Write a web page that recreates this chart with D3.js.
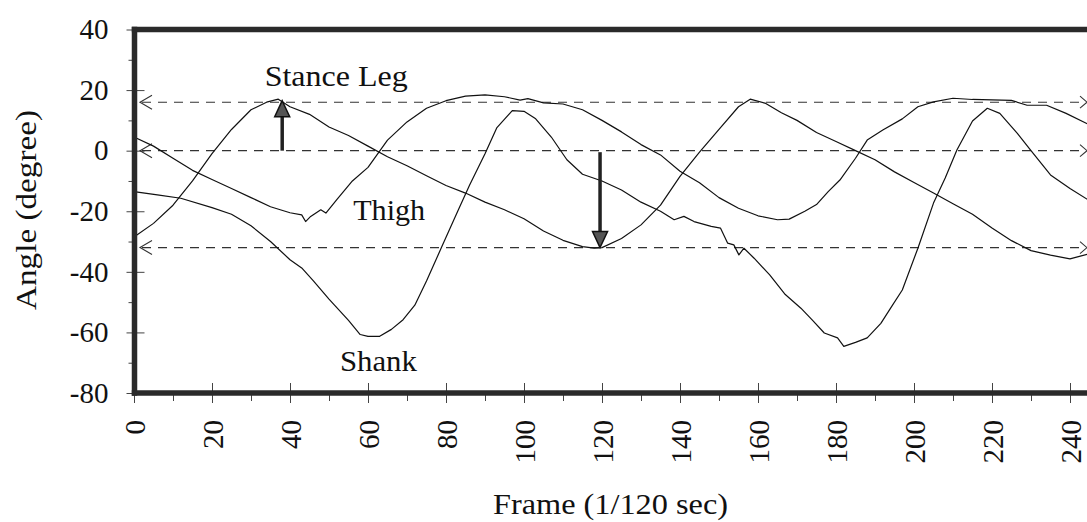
<!DOCTYPE html>
<html>
<head>
<meta charset="utf-8">
<script src="https://cdn.jsdelivr.net/npm/d3@7/dist/d3.min.js"></script>
<style>
  html, body { margin: 0; padding: 0; background: #fff; }
  svg { display: block; }
  svg text { fill: #111; }
</style>
</head>
<body>
<svg id="chart" width="1087" height="522"></svg>
<script>
// ---- data ----
const stanceFrames = [0,5,10,15,20,25,30,34,37,40,45,50,55,60,65,70,75,80,85,90,95,100,105,110,115,118,120,125,130,135,140,145,150,155,158,162,166,170,175,180,185,190,195,200,205,210,215,220,225,230,235,240,245];
const stanceAngles = [-28.5,-24,-18,-10,-1,7,13.5,16,17,14.5,12,7.8,5,1.5,-2,-5,-8.3,-11.5,-14,-17,-19.5,-22.5,-26.5,-29.6,-31.7,-32.2,-32,-29,-24.5,-18,-8.5,-0.5,7,14.5,17,15.6,12.5,10,6,3,0,-3,-7,-10.5,-14,-17.5,-21,-25.5,-29.7,-33,-34.5,-35.7,-34];

const thighFrames = [0,5,10,15,20,25,30,35,40,43,44,45.3,47.9,49.2,52,56,60,65,70,75,80,85,90,95,99,101,105,110,115,120,125,130,135,140,145,150,155,160,165,168,172,175,178,181,185,188,192,197,201,205,210,215,220,225,229,234,239,245];
const thighAngles = [4.5,1.5,-2.5,-6.5,-9.5,-12.5,-15.5,-18.5,-20.5,-21.2,-23.4,-21.7,-19.5,-20.6,-16.2,-10,-5.5,3.5,9.5,14,16.5,18,18.4,17.8,16.7,17.2,15.8,15.4,13.5,10,6.2,2,-1.4,-6.8,-10.6,-15.5,-19,-21.5,-22.8,-22.6,-20,-17.8,-13.5,-9.7,-2.5,3.5,6.8,10.5,14.5,16.1,17.3,16.9,16.8,16.6,15,15,12.3,8.5];

const shankFrames = [0,6,12,20,25,30,35,40,43,46,50,55,58,60,63,66,69,72,75,79,83,86,90,93,97,100,103,107,111,115,120,125,130,135,138.5,141,143.6,148,150.4,152.2,153.8,155.1,156.4,159,163,167,171,174,177,180.4,182,185,188,191.5,194,197,201,205,208,211,215,218.8,222,226.5,230,235,240,245];
const shankAngles = [-13.5,-14.6,-15.7,-18.8,-21,-24.8,-30,-36,-38.7,-43,-49,-56,-60.7,-61.3,-61.3,-59,-55.8,-51,-43,-31.5,-20,-11.5,-1,7.5,13.2,13,10.5,4.5,-3,-7.8,-10,-13,-17,-20,-22.8,-21.7,-23.4,-25,-25.6,-30.5,-31.1,-34.4,-32.2,-35.5,-41,-47.5,-52,-56,-60.2,-61.8,-64.6,-63.3,-61.8,-57,-52,-46,-32.2,-17.3,-9,0.2,9.8,14,12.3,5.7,0,-8,-12.5,-16.5];

const refLevels = [16, 0, -32];               // dashed reference lines
const upArrow = { frame: 38, from: 0, to: 16.5 };
const downArrow = { frame: 119.5, from: -0.5, to: -32 };

const yMajorTicks = [40, 20, 0, -20, -40, -60, -80];
const yMinorTicks = [30, 10, -10, -30, -50, -70];
const xMajorTicks = [0,20,40,60,80,100,120,140,160,180,200,220,240];
const xMinorTicks = [10,30,50,70,90,110,130,150,170,190,210,230];

const seriesLabels = [
  { text: "Stance Leg", frame: 33.5, angle: 21.5, len: 143 },
  { text: "Thigh", frame: 56.2, angle: -22.8, len: 72 },
  { text: "Shank", frame: 52.8, angle: -72.9, len: 77 }
];
const xTitle = "Frame (1/120 sec)";
const yTitle = "Angle (degree)";

// ---- drawing ----
const FONT = "Liberation Serif";
const svg = d3.select("#chart");
const W = 1087, H = 522;
const x = d3.scaleLinear().domain([0, 240]).range([134, 1070]);
const y = d3.scaleLinear().domain([-80, 40]).range([393, 29.5]);
const axisX = 134.5, axisBottom = 393, axisTop = 29.5;

function styleAxis(g) {
  g.attr("font-family", FONT);
  g.select(".domain").remove();
  g.selectAll("line").attr("stroke", "#444").attr("stroke-width", 1);
}

// y axis (outer ticks + labels)
const gy = svg.append("g").attr("transform", `translate(${axisX},0)`)
  .call(d3.axisLeft(y).tickValues(yMajorTicks).tickSize(8).tickPadding(18).tickFormat(d3.format("d")))
  .call(styleAxis);
gy.selectAll("text").attr("font-family", FONT).attr("font-size", 29).attr("fill", "#111")
  .text(d => d < 0 ? "-" + Math.abs(d) : d);
// inner part of major y ticks
svg.append("g").attr("transform", `translate(${axisX},0)`)
  .call(d3.axisLeft(y).tickValues(yMajorTicks).tickSize(-10).tickFormat(""))
  .call(styleAxis);
// minor y ticks
svg.append("g").attr("transform", `translate(${axisX},0)`)
  .call(d3.axisLeft(y).tickValues(yMinorTicks).tickSize(6).tickFormat(""))
  .call(styleAxis);

// x axis
const gx = svg.append("g").attr("transform", `translate(0,${axisBottom})`)
  .call(d3.axisBottom(x).tickValues(xMajorTicks).tickSize(10).tickFormat(d3.format("d")))
  .call(styleAxis);
gx.selectAll("text")
  .attr("font-family", FONT).attr("font-size", 29).attr("fill", "#111")
  .attr("transform", "rotate(-90)")
  .attr("x", -27).attr("y", 0).attr("dy", "0.35em")
  .attr("text-anchor", "end");
svg.append("g").attr("transform", `translate(0,${axisBottom})`)
  .call(d3.axisBottom(x).tickValues(xMajorTicks).tickSize(-10).tickFormat(""))
  .call(styleAxis);
svg.append("g").attr("transform", `translate(0,${axisBottom})`)
  .call(d3.axisBottom(x).tickValues(xMinorTicks).tickSize(8).tickFormat(""))
  .call(styleAxis);

// dashed reference lines with open chevrons
const refG = svg.append("g");
refLevels.forEach(v => {
  const yy = y(v);
  refG.append("line").attr("x1", 142).attr("x2", 1084).attr("y1", yy).attr("y2", yy)
    .attr("stroke", "#333").attr("stroke-width", 1.1).attr("stroke-dasharray", "9,7");
  refG.append("path").attr("d", `M152,${yy - 7}L140,${yy}L152,${yy + 7}`)
    .attr("fill", "none").attr("stroke", "#333").attr("stroke-width", 1.1);
  refG.append("path").attr("d", `M1080,${yy - 6}L1087,${yy}L1080,${yy + 6}`)
    .attr("fill", "none").attr("stroke", "#333").attr("stroke-width", 1.1);
});

// curves
const line = d3.line().x(d => x(d[0])).y(d => y(d[1])).curve(d3.curveLinear);
const series = [
  [stanceFrames, stanceAngles],
  [thighFrames, thighAngles],
  [shankFrames, shankAngles]
];
series.forEach(([fr, an]) => {
  svg.append("path").datum(fr.map((f, i) => [f, an[i]]))
    .attr("d", line).attr("fill", "none").attr("stroke", "#111")
    .attr("stroke-width", 1.2).attr("stroke-linejoin", "round");
});

// arrows
function arrow(a) {
  const ax = x(a.frame), y0 = y(a.from), y1 = y(a.to);
  const dir = y1 < y0 ? -1 : 1;
  const headLen = 16, headHalf = 7.5;
  const base = y1 - dir * headLen;
  svg.append("line").attr("x1", ax).attr("x2", ax).attr("y1", y0).attr("y2", base)
    .attr("stroke", "#222").attr("stroke-width", 3.5);
  svg.append("path")
    .attr("d", `M${ax},${y1}L${ax - headHalf},${base}L${ax + headHalf},${base}Z`)
    .attr("fill", "#555").attr("stroke", "#111").attr("stroke-width", 1.5);
}
arrow(upArrow);
arrow(downArrow);

// frame border (thick)
const border = svg.append("g").attr("stroke", "#2a2a2a").attr("stroke-width", 5.5).attr("fill", "none");
border.append("line").attr("x1", axisX).attr("x2", axisX).attr("y1", axisTop - 2.7).attr("y2", axisBottom + 2.7);
border.append("line").attr("x1", axisX - 2.7).attr("x2", W + 5).attr("y1", axisTop).attr("y2", axisTop);
border.append("line").attr("x1", axisX - 2.7).attr("x2", W + 5).attr("y1", axisBottom).attr("y2", axisBottom);

// series labels
seriesLabels.forEach(l => {
  svg.append("text").attr("x", x(l.frame)).attr("y", y(l.angle))
    .attr("font-family", FONT).attr("font-size", 30)
    .attr("textLength", l.len).attr("lengthAdjust", "spacingAndGlyphs")
    .text(l.text);
});

// axis titles
svg.append("text").attr("x", 493).attr("y", 514)
  .attr("font-family", FONT).attr("font-size", 30)
  .attr("textLength", 235).attr("lengthAdjust", "spacingAndGlyphs")
  .text(xTitle);
svg.append("text").attr("transform", "translate(36,310) rotate(-90)")
  .attr("x", 0).attr("y", 0)
  .attr("font-family", FONT).attr("font-size", 30)
  .attr("textLength", 200).attr("lengthAdjust", "spacingAndGlyphs")
  .text(yTitle);
</script>
</body>
</html>
